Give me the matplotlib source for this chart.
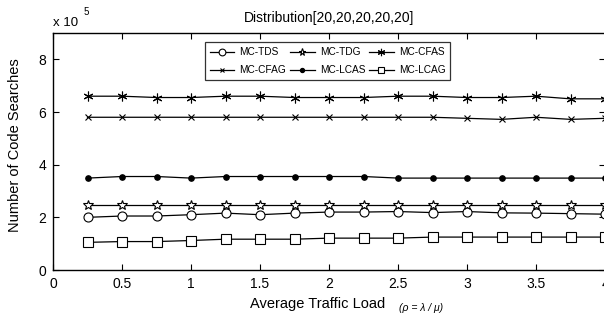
import matplotlib
matplotlib.use('Agg')
import matplotlib.pyplot as plt

plt.rcParams['font.family'] = ['Liberation Sans', 'DejaVu Sans']

# traffic load and code searches (x 10^5)
load = [0.25, 0.5, 0.75, 1.0, 1.25, 1.5, 1.75, 2.0, 2.25, 2.5, 2.75, 3.0, 3.25, 3.5, 3.75, 4.0]
tds = [2.0, 2.05, 2.05, 2.1, 2.16, 2.1, 2.16, 2.2, 2.2, 2.22, 2.18, 2.22, 2.17, 2.16, 2.14, 2.12]
tdg = [2.48, 2.48, 2.48, 2.48, 2.48, 2.48, 2.48, 2.48, 2.48, 2.48, 2.48, 2.48, 2.48, 2.48, 2.48, 2.48]
cfas = [6.6, 6.6, 6.55, 6.55, 6.6, 6.6, 6.55, 6.55, 6.55, 6.6, 6.6, 6.55, 6.55, 6.6, 6.5, 6.5]
cfag = [5.8, 5.8, 5.8, 5.8, 5.8, 5.8, 5.8, 5.8, 5.8, 5.8, 5.8, 5.76, 5.72, 5.8, 5.72, 5.76]
lcas = [3.49, 3.55, 3.55, 3.49, 3.55, 3.55, 3.55, 3.55, 3.55, 3.49, 3.49, 3.49, 3.49, 3.49, 3.49, 3.49]
lcag = [1.05, 1.08, 1.08, 1.12, 1.17, 1.17, 1.17, 1.21, 1.21, 1.21, 1.25, 1.25, 1.25, 1.25, 1.25, 1.25]

W, H = 604, 324
fig = plt.figure(figsize=(W / 100, H / 100), dpi=100)
ax = fig.add_axes([53 / W, 1 - 270 / H, 552 / W, 237 / H])

lw = 0.9
h_tds, = ax.plot(load, tds, color='k', lw=lw, marker='o', ms=6.5, mfc='white', mec='k', mew=0.8, label='MC-TDS')
h_tdg, = ax.plot(load, tdg, color='k', lw=lw, marker='*', ms=7, mfc='white', mec='k', mew=0.8, label='MC-TDG')
h_cfas, = ax.plot(load, cfas, color='k', lw=lw, marker=(6, 2, 0), ms=7, mec='k', mew=0.8, label='MC-CFAS')
h_cfag, = ax.plot(load, cfag, color='k', lw=lw, marker='x', ms=4, mec='k', mew=0.8, label='MC-CFAG')
h_lcas, = ax.plot(load, lcas, color='k', lw=lw, marker='o', ms=3.8, mfc='k', mec='k', label='MC-LCAS')
h_lcag, = ax.plot(load, lcag, color='k', lw=lw, marker='s', ms=6.5, mfc='white', mec='k', mew=0.8, label='MC-LCAG')

ax.set_xlim(0, 4)
ax.set_ylim(0, 9)
ax.set_xticks([0, 0.5, 1, 1.5, 2, 2.5, 3, 3.5, 4])
ax.set_xticklabels(['0', '0.5', '1', '1.5', '2', '2.5', '3', '3.5', '4'])
ax.set_yticks([0, 2, 4, 6, 8])
ax.tick_params(direction='in', top=True, right=True, length=4, width=0.8, labelsize=10, pad=5)
for sp in ax.spines.values():
    sp.set_linewidth(1.0)

# legend fills column-wise, so interleave to get rows TDS/TDG/CFAS and CFAG/LCAS/LCAG
order = [h_tds, h_cfag, h_tdg, h_lcas, h_cfas, h_lcag]
leg = ax.legend(handles=order, ncol=3, loc='upper left', bbox_to_anchor=(205 / W, 1 - 42 / H),
                bbox_transform=fig.transFigure, fontsize=7.3, frameon=True, fancybox=False,
                edgecolor='k', handlelength=2.4, columnspacing=0.4, handletextpad=0.5,
                borderpad=0.5, labelspacing=0.8, borderaxespad=0, markerscale=0.75)
leg.get_frame().set_linewidth(0.9)
fig.text(437 / W, 1 - 53 / H, '·', fontsize=7, ha='center', va='center')

fig.text(329 / W, 1 - 18 / H, 'Distribution[20,20,20,20,20]', fontsize=10, ha='center', va='center')
fig.text(53 / W, 1 - 23 / H, 'x 10', fontsize=9.5, ha='left', va='center')
fig.text(84 / W, 1 - 12 / H, '5', fontsize=7, ha='left', va='center')
fig.text(15 / W, 1 - 145 / H, 'Number of Code Searches', fontsize=10.5, rotation=90, ha='center', va='center')
fig.text(250 / W, 1 - 308 / H, 'Average Traffic Load', fontsize=10.5, ha='left', va='baseline')
fig.text(399 / W, 1 - 311 / H, '(ρ = λ / μ)', fontsize=7.5, style='italic', ha='left', va='baseline')

fig.savefig('out.png', dpi=100)
